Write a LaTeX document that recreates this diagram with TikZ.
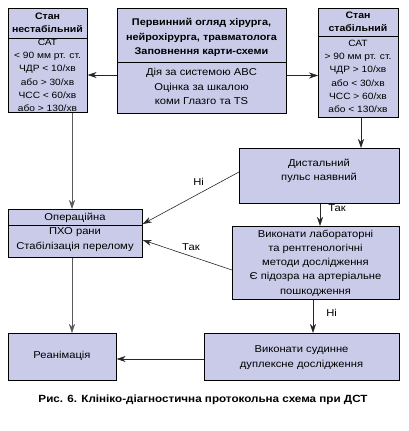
\documentclass[tikz,border=0pt]{standalone}
\usepackage{fontspec}
\setmainfont[FakeStretch=1.12]{Liberation Sans}
\usetikzlibrary{arrows.meta}
\definecolor{boxfill}{RGB}{201,203,232}
\begin{document}
\begin{tikzpicture}[x=1pt,y=1pt,
  box/.style={draw=black, line width=0.7pt, fill=boxfill, inner sep=0pt, anchor=north west},
  sideb/.style={align=center, font=\fontsize{9.1}{13.3}\selectfont, inner sep=0pt},
  sideh/.style={align=center, font=\bfseries\fontsize{9.4}{12.8}\selectfont, inner sep=0pt},
  txtc/.style={align=center, font=\fontsize{10}{14.2}\selectfont, inner sep=0pt},
  arr/.style={line width=0.6pt, draw=black!85, -{Stealth[length=9pt,width=6pt]}},
  lbl/.style={font=\fontsize{10}{12}\selectfont, inner sep=0pt}]
\useasboundingbox (0,0) rectangle (409,-431);
% boxes
\node[box, minimum width=79pt, minimum height=104pt] (L) at (8,-8) {};
\node[box, minimum width=169pt, minimum height=105pt] (C) at (117,-8) {};
\node[box, minimum width=80pt, minimum height=109pt] (R) at (318,-8) {};
\node[box, minimum width=160pt, minimum height=55pt] (D) at (239,-148) {};
\node[box, minimum width=134pt, minimum height=48pt] (O) at (8,-209) {};
\node[box, minimum width=167pt, minimum height=73pt] (V) at (232,-226) {};
\node[box, minimum width=108pt, minimum height=47pt] (Re) at (8,-333) {};
\node[box, minimum width=195pt, minimum height=47pt] (S) at (204,-333) {};
% dividers
\draw[line width=0.7pt] (L.west |- 0,-38) -- (L.east |- 0,-38);
\draw[line width=0.7pt] (C.west |- 0,-62) -- (C.east |- 0,-62);
\draw[line width=0.7pt] (R.west |- 0,-36) -- (R.east |- 0,-36);
\draw[line width=0.7pt] (O.west |- 0,-225) -- (O.east |- 0,-225);
% texts
\node[sideh] (Lh) at (47.5,-22.5) {Стан\\нестабільний};
\node[sideb] (Lb) at (47.5,-75.5) {САТ\\< 90 мм рт. ст.\\ЧДР < 10/хв\\або > 30/хв\\ЧСС < 60/хв\\або > 130/хв};
\node[txtc, font=\bfseries\fontsize{9.7}{14.5}\selectfont] (Ch) at (201.5,-37.5) {Первинний огляд хірурга,\\нейрохірурга, травматолога\\Заповнення карти-схеми};
\node[txtc] (Cb) at (201.5,-86.5) {Дія за системою ABC\\Оцінка за шкалою\\коми Глазго та TS};
\node[sideh] (Rh) at (358,-21.5) {Стан\\стабільний};
\node[sideb] (Rb) at (358,-76.5) {САТ\\> 90 мм рт. ст.\\ЧДР > 10/хв\\або < 30/хв\\ЧСС > 60/хв\\або < 130/хв};
\node[txtc] (Dt) at (319,-170.5) {Дистальний\\пульс наявний};
\node[txtc] (Oh) at (75,-218) {Операційна};
\node[txtc] (Ob) at (75,-239.5) {ПХО рани\\Стабілізація перелому};
\node[txtc] (Vt) at (315.5,-263) {Виконати лабораторні\\та рентгенологічні\\методи дослідження\\Є підозра на артеріальне\\пошкодження};
\node[txtc] (Ret) at (62,-355.5) {Реанімація};
\node[txtc] (St) at (301.5,-357.5) {Виконати судинне\\дуплексне дослідження};
% connectors
\draw[arr] (C.west |- 0,-75) -- (L.east |- 0,-75);
\draw[arr] (C.east |- 0,-75.5) -- (R.west |- 0,-75.5);
\draw[arr, draw=black!65] (L.south -| 72,0) -- (O.north -| 72,0);
\draw[arr] (R.south -| 361,0) -- (D.north -| 361,0);
\draw[arr] (D.west |- 0,-172) -- (O.east |- 0,-224) node[lbl, pos=0.42, above=8pt] (n1) {Ні};
\draw[arr] (D.south -| 320,0) -- (V.north -| 320,0) node[lbl, pos=0.18, anchor=west, xshift=8pt] (t1) {Так};
\draw[arr] (V.west |- 0,-270) -- (O.east |- 0,-240) node[lbl, pos=0.46, above=5pt] (t2) {Так};
\draw[arr, draw=black!65] (O.south -| 72,0) -- (Re.north -| 72,0);
\draw[arr] (V.south -| 313,0) -- (S.north -| 313,0) node[lbl, pos=0.41, anchor=west, xshift=13pt] (n2) {Ні};
\draw[arr] (S.west |- 0,-359) -- (Re.east |- 0,-359);
% caption
\node[font=\bfseries\fontsize{10.4}{12}\selectfont, inner sep=0pt] (cap) at (203,-400) {Рис. 6. Клініко-діагностична протокольна схема при ДСТ};
\end{tikzpicture}
\end{document}
